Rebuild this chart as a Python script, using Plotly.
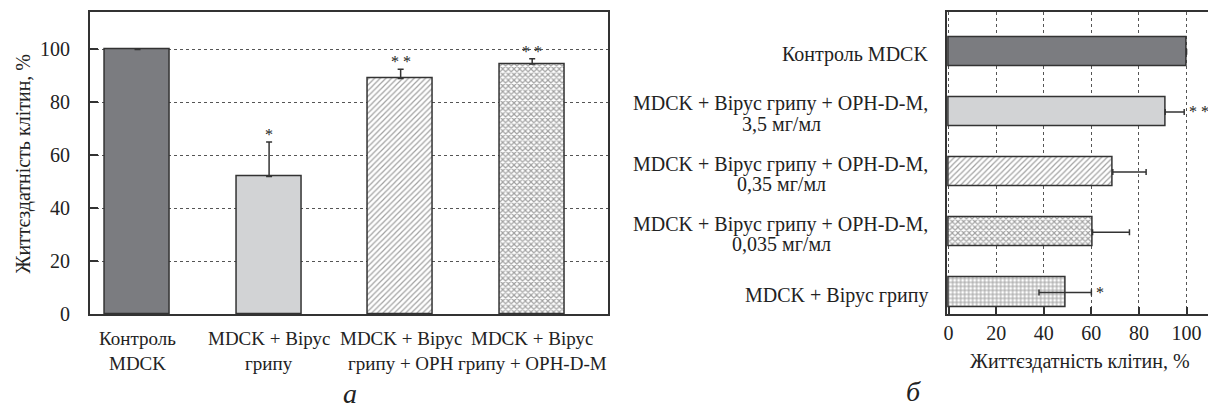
import plotly.graph_objects as go

W, H = 1208, 418

# ---------------- data: panel "а" ----------------
cats_a = ["Контроль<br>MDCK", "MDCK + Вірус<br>грипу",
          "MDCK + Вірус<br>грипу + OPH", "MDCK + Вірус<br>грипу + OPH-D-M"]
vals_a = [100, 52, 89, 94.5]
err_a = [0, 13, 3.5, 2]
stars_a = ["", "*", "* *", "* *"]
yticks_a = [0, 20, 40, 60, 80, 100]

# ---------------- data: panel "б" ----------------
cats_b = ["Контроль MDCK",
          "MDCK + Вірус грипу + OPH-D-M,<br>3,5 мг/мл",
          "MDCK + Вірус грипу + OPH-D-M,<br>0,35 мг/мл",
          "MDCK + Вірус грипу + OPH-D-M,<br>0,035 мг/мл",
          "MDCK + Вірус грипу"]
vals_b = [100, 91, 69, 60.5, 49]
err_b_plus = [0, 8, 14, 15.5, 11]
err_b_minus = [0, 0, 0, 0, 11]
stars_b = ["", "* *", "", "", "*"]
xticks_b = [0, 20, 40, 60, 80, 100]

axis_title = "Життєздатність клітин, %"

# ---------------- styles ----------------
FONT = "Liberation Serif"
INK = "#333333"
TXT = "#222222"
DARK = "#7b7c80"
LIGHT = "#d2d3d5"
fill_a = [DARK, LIGHT, "white", "white"]
shape_a = ["", "", "/", "x"]
size_a = [6, 6, 4, 4]
sol_a = [0.2, 0.2, 0.3, 0.5]
fill_b = [DARK, LIGHT, "white", "white", "white"]
shape_b = ["", "", "/", "x", "+"]
size_b = [6, 6, 4, 4, 4]
sol_b = [0.2, 0.2, 0.3, 0.5, 0.45]


def F(size, **kw):
    return dict(family=FONT, size=size, color=TXT, **kw)


fig = go.Figure()

fig.add_trace(go.Bar(
    x=cats_a, y=vals_a, width=0.493, xaxis="x", yaxis="y",
    marker=dict(color=fill_a, line=dict(color=INK, width=1.5),
                pattern=dict(shape=shape_a, fgcolor=INK, bgcolor=fill_a,
                             size=size_a, solidity=sol_a)),
    error_y=dict(type="data", symmetric=False, array=err_a,
                 arrayminus=[0] * len(err_a), color=INK, thickness=1.5, width=3),
    showlegend=False, hoverinfo="skip",
))

fig.add_trace(go.Bar(
    y=cats_b, x=vals_b, orientation="h", width=0.485, xaxis="x2", yaxis="y2",
    marker=dict(color=fill_b, line=dict(color=INK, width=1.5),
                pattern=dict(shape=shape_b, fgcolor=INK, bgcolor=fill_b,
                             size=size_b, solidity=sol_b)),
    error_x=dict(type="data", symmetric=False, array=err_b_plus,
                 arrayminus=err_b_minus, color=INK, thickness=1.5, width=3),
    showlegend=False, hoverinfo="skip",
))


def px_x(p):
    return p / W


def px_y(p):
    return (H - p) / H


ydom = [px_y(322.7), px_y(12.7)]

fig.update_layout(
    width=W, height=H, margin=dict(l=0, r=0, t=0, b=0, pad=0),
    paper_bgcolor="white", plot_bgcolor="white",
    font=F(19),
    bargap=0,
    xaxis=dict(domain=[px_x(87), px_x(607)], type="category",
               range=[-0.363, 3.58], showticklabels=False, ticks="",
               showline=True, linecolor=INK, linewidth=1.5, mirror=True,
               showgrid=False, zeroline=False, fixedrange=True),
    yaxis=dict(domain=ydom, range=[0, 114], tickvals=yticks_a,
               ticks="inside", ticklen=8, tickcolor=INK, tickwidth=1.5,
               ticklabelstandoff=14,
               showline=True, linecolor=INK, linewidth=1.5, mirror=True,
               showgrid=True, gridcolor="#555555", gridwidth=1, griddash="dot",
               zeroline=False, tickfont=F(20)),
    xaxis2=dict(domain=[px_x(946), 1.0], anchor="y2", range=[-0.8, 109],
                tickvals=xticks_b, ticks="inside", ticklen=7, tickcolor=INK,
                tickwidth=1.5, ticklabelstandoff=0,
                showline=True, linecolor=INK, linewidth=1.5, mirror=True,
                showgrid=True, gridcolor="#555555", gridwidth=1, griddash="dot",
                zeroline=False, tickfont=F(20)),
    yaxis2=dict(domain=ydom, anchor="x2", type="category",
                categoryorder="array", categoryarray=cats_b,
                range=[4.362, -0.654], showticklabels=False, ticks="",
                showline=True, linecolor=INK, linewidth=1.5, mirror=False,
                showgrid=False, zeroline=False),
)

ann = []
# panel a category labels (two lines each)
for c in cats_a:
    for i, ln in enumerate(c.split("<br>")):
        ann.append(dict(x=c, xref="x", y=0, yref="y domain", text=ln,
                        showarrow=False, xanchor="center", yanchor="middle",
                        yshift=-24 - 25 * i, font=F(19)))
# panel a stars
for c, v, e, s in zip(cats_a, vals_a, err_a, stars_a):
    if s:
        ann.append(dict(x=c, xref="x", y=v + e, yref="y", text=s,
                        showarrow=False, xanchor="center", yanchor="bottom",
                        yshift=-3, font=F(16)))
# panel b category labels: first line right-aligned, second centred under it
for c in cats_b:
    lines = c.split("<br>")
    if len(lines) == 1:
        ann.append(dict(x=0, xref="x2 domain", y=c, yref="y2", text=lines[0],
                        showarrow=False, xanchor="right", xshift=-17,
                        yanchor="middle", yshift=-3, font=F(20)))
    else:
        ann.append(dict(x=0, xref="x2 domain", y=c, yref="y2", text=lines[0],
                        showarrow=False, xanchor="right", xshift=-17,
                        yanchor="middle", yshift=8, font=F(20)))
        ann.append(dict(x=0, xref="x2 domain", y=c, yref="y2", text=lines[1],
                        showarrow=False, xanchor="center", xshift=-165,
                        yanchor="middle", yshift=-12, font=F(20)))
# panel b stars
for c, v, e, s in zip(cats_b, vals_b, err_b_plus, stars_b):
    if s:
        ann.append(dict(x=v + e, xref="x2", y=c, yref="y2", text=s,
                        showarrow=False, xanchor="left", xshift=3,
                        yanchor="middle", yshift=0, font=F(16)))
# axis titles
ann.append(dict(x=px_x(21), xref="paper", y=px_y(168), yref="paper",
                xanchor="center", yanchor="middle",
                text=axis_title, textangle=-90, showarrow=False, font=F(20)))
ann.append(dict(x=px_x(1080), xref="paper", y=px_y(371.7), yref="paper",
                xanchor="center", yanchor="middle",
                text=axis_title, showarrow=False, font=F(20)))
# panel letters
ann.append(dict(x=px_x(348), xref="paper", y=px_y(404), yref="paper",
                xanchor="center", yanchor="middle",
                text="а", showarrow=False, font=F(28, style="italic")))
ann.append(dict(x=px_x(913), xref="paper", y=px_y(402), yref="paper",
                xanchor="center", yanchor="middle",
                text="б", showarrow=False, font=F(28, style="italic")))

fig.update_layout(annotations=ann)

fig.write_html("out.html", config={"displayModeBar": False},
               post_script="document.body.style.margin='0px';")
